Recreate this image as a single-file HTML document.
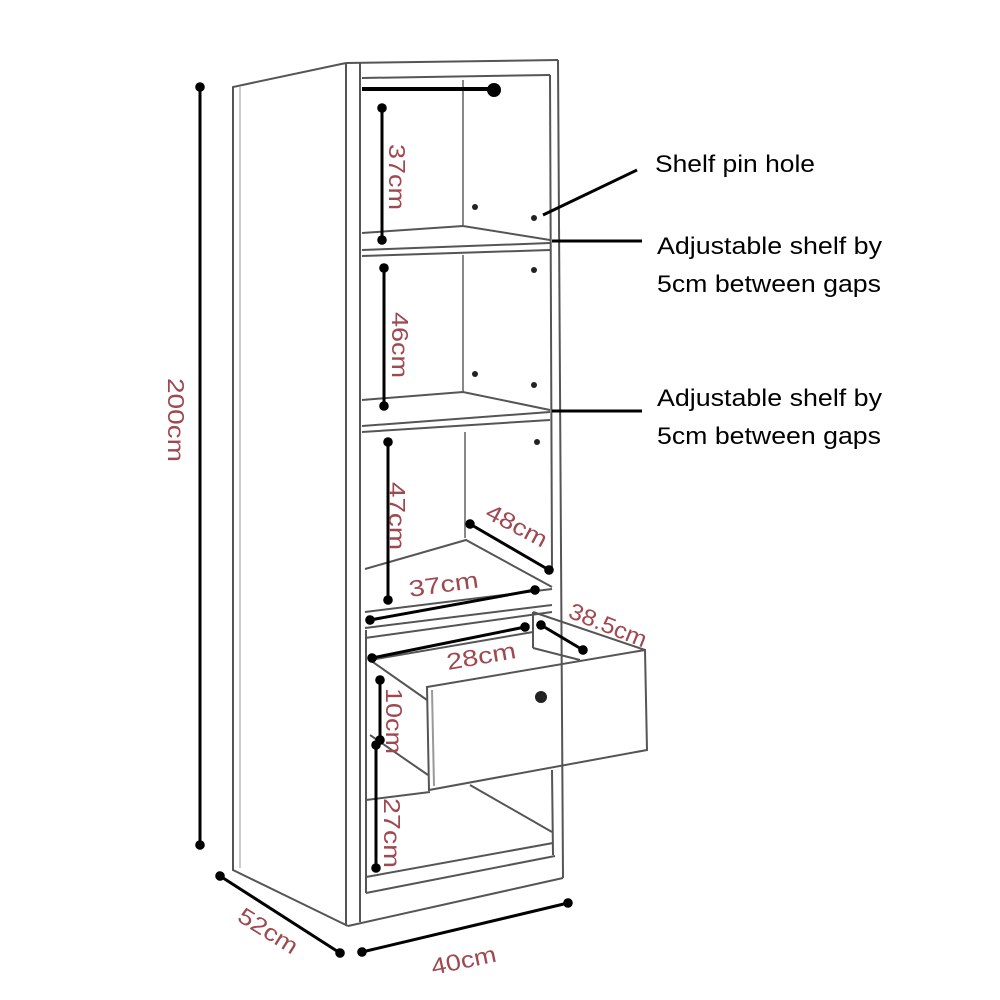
<!DOCTYPE html>
<html><head><style>html,body{margin:0;padding:0;background:#fff;}svg{display:block}</style></head>
<body>
<svg width="1000" height="1000" viewBox="0 0 1000 1000" xmlns="http://www.w3.org/2000/svg">
<defs>
<marker id="a" viewBox="0 0 10 10" refX="5" refY="5" markerWidth="4" markerHeight="4" orient="auto"><circle cx="5" cy="5" r="4" fill="#000"/></marker>
</defs>
<g fill="none" stroke="#555" stroke-width="2">
<polyline points="346,63 233,87 233,870 348,926"/>
<line x1="240" y1="87" x2="240" y2="868" stroke="#999" stroke-width="1"/>
<line x1="346" y1="63" x2="346" y2="926"/>
<line x1="360" y1="63" x2="360" y2="922"/>
<line x1="346" y1="63" x2="558" y2="60"/>
<line x1="362" y1="78" x2="550" y2="75"/>
<line x1="558" y1="60" x2="563" y2="878"/>
<line x1="550" y1="75" x2="552" y2="570"/>
<line x1="552" y1="770" x2="553" y2="855"/>
<line x1="348" y1="926" x2="563" y2="878"/>
<line x1="366" y1="893" x2="555" y2="856"/>
<line x1="366" y1="877" x2="553" y2="843"/>
<line x1="366" y1="630" x2="366" y2="893"/>
<line x1="463" y1="80" x2="463" y2="225" stroke="#888"/>
<line x1="463" y1="255" x2="463" y2="393" stroke="#888"/>
<line x1="465" y1="432" x2="465" y2="538" stroke="#888"/>
<polyline points="362,233 463,226 550,240"/>
<line x1="362" y1="250" x2="550" y2="243"/>
<line x1="362" y1="256" x2="550" y2="250"/>
<polyline points="362,400 463,392 550,410"/>
<line x1="362" y1="426" x2="550" y2="412"/>
<line x1="362" y1="432" x2="550" y2="420"/>
<polyline points="365,569 466,540 552,587"/>
<line x1="365" y1="612" x2="552" y2="589"/>
<line x1="365" y1="628" x2="552" y2="605"/>
<line x1="365" y1="638" x2="552" y2="612"/>
<polygon points="427,687 645,650 647,750 429,790"/>
<line x1="432" y1="690" x2="434" y2="786" stroke="#999"/>
<polyline points="370,660 427,700"/>
<polyline points="370,735 428,775"/>
<line x1="370" y1="660" x2="533" y2="632"/>
<line x1="533" y1="612" x2="533" y2="648"/>
<line x1="533" y1="612" x2="645" y2="650"/>
<line x1="533" y1="648" x2="580" y2="660"/>
<line x1="470" y1="785" x2="552" y2="832"/>
<line x1="366" y1="800" x2="430" y2="792"/>
</g>
<g fill="#222">
<circle cx="475" cy="207" r="3"/><circle cx="534" cy="218" r="3"/>
<circle cx="534" cy="270" r="3"/><circle cx="475" cy="374" r="3"/>
<circle cx="534" cy="385" r="3"/><circle cx="537" cy="442" r="3"/>
<circle cx="541" cy="697" r="6"/>
</g>
<line x1="362" y1="89" x2="493" y2="89" stroke="#000" stroke-width="4"/>
<circle cx="494" cy="90" r="7" fill="#000"/>
<g stroke="#000" stroke-width="3" marker-start="url(#a)" marker-end="url(#a)">
<line x1="200" y1="87" x2="200" y2="845"/>
<line x1="382" y1="108" x2="382" y2="240"/>
<line x1="384" y1="268" x2="384" y2="406"/>
<line x1="388" y1="442" x2="388" y2="600"/>
<line x1="370" y1="620" x2="535" y2="590"/>
<line x1="372" y1="658" x2="525" y2="627"/>
<line x1="541" y1="625" x2="583" y2="650"/>
<line x1="470" y1="524" x2="549" y2="570"/>
<line x1="380" y1="680" x2="380" y2="740"/>
<line x1="376" y1="745" x2="376" y2="868"/>
<line x1="220" y1="876" x2="340" y2="953"/>
<line x1="362" y1="952" x2="568" y2="903"/>
</g>
<g stroke="#000" stroke-width="3">
<line x1="543" y1="215" x2="637" y2="170"/>
<line x1="552" y1="241" x2="642" y2="241"/>
<line x1="552" y1="411" x2="642" y2="411"/>
</g>
<g font-family="Liberation Sans, sans-serif" font-size="24" fill="#000" lengthAdjust="spacingAndGlyphs">
<text x="655" y="172" textLength="160" lengthAdjust="spacingAndGlyphs">Shelf pin hole</text>
<text x="657" y="254" textLength="225" lengthAdjust="spacingAndGlyphs">Adjustable shelf by</text>
<text x="657" y="292" textLength="224" lengthAdjust="spacingAndGlyphs">5cm between gaps</text>
<text x="657" y="406" textLength="225" lengthAdjust="spacingAndGlyphs">Adjustable shelf by</text>
<text x="657" y="444" textLength="224" lengthAdjust="spacingAndGlyphs">5cm between gaps</text>
</g>
<g font-family="Liberation Sans, sans-serif" font-size="23" fill="#a0484f">
<text transform="translate(389,144) rotate(90)" textLength="66" lengthAdjust="spacingAndGlyphs">37cm</text>
<text transform="translate(392,312) rotate(90)" textLength="66" lengthAdjust="spacingAndGlyphs">46cm</text>
<text transform="translate(389,482) rotate(90)" textLength="68" lengthAdjust="spacingAndGlyphs">47cm</text>
<text transform="translate(386,688) rotate(90)" textLength="66" lengthAdjust="spacingAndGlyphs">10cm</text>
<text transform="translate(384,798) rotate(90)" textLength="70" lengthAdjust="spacingAndGlyphs">27cm</text>
<text transform="translate(168,378) rotate(90)" textLength="84" lengthAdjust="spacingAndGlyphs">200cm</text>
<text transform="translate(410,597) rotate(-8)" textLength="70" lengthAdjust="spacingAndGlyphs">37cm</text>
<text transform="translate(448,670) rotate(-10)" textLength="70" lengthAdjust="spacingAndGlyphs">28cm</text>
<text transform="translate(484,517) rotate(28)" textLength="66" lengthAdjust="spacingAndGlyphs">48cm</text>
<text transform="translate(567,617) rotate(22)" textLength="82" lengthAdjust="spacingAndGlyphs">38.5cm</text>
<text transform="translate(236,920) rotate(32)" textLength="66" lengthAdjust="spacingAndGlyphs">52cm</text>
<text transform="translate(433,975) rotate(-12)" textLength="66" lengthAdjust="spacingAndGlyphs">40cm</text>
</g>
</svg>
</body></html>
